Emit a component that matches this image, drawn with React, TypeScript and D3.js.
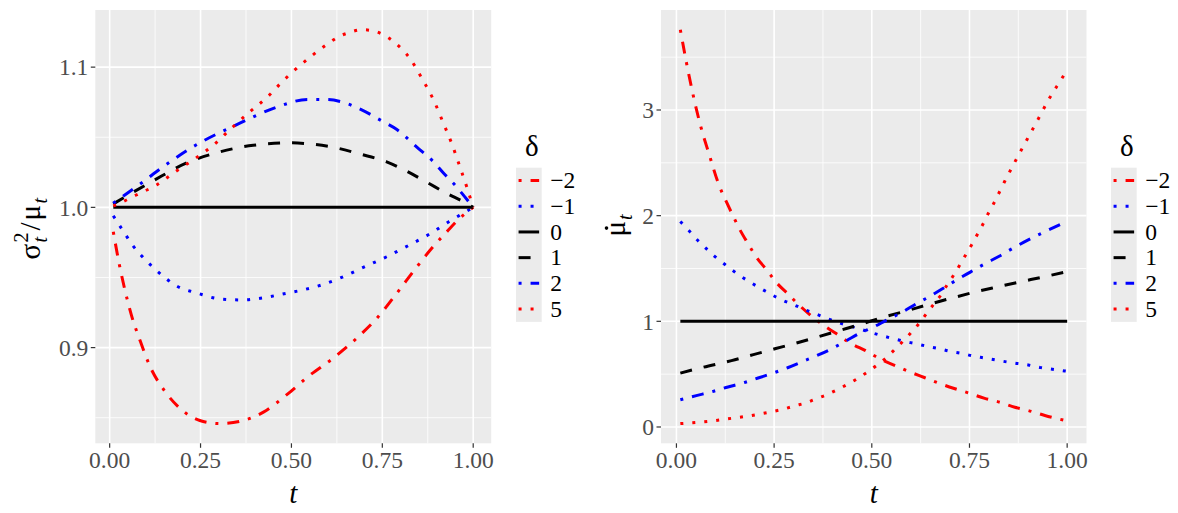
import * as d3 from 'd3';

// sigma_t^2 / mu_t: [t, value]
const ratioM2 = [[0.01, 0.9826], [0.026, 0.96], [0.042, 0.941], [0.06, 0.923], [0.083, 0.9055], [0.111, 0.8866], [0.152, 0.8688], [0.198, 0.8557], [0.248, 0.848], [0.303, 0.8458], [0.358, 0.8474], [0.423, 0.854], [0.49, 0.867], [0.546, 0.8794], [0.615, 0.8925], [0.68, 0.9068], [0.739, 0.9221], [0.79, 0.9388], [0.84, 0.9559], [0.886, 0.9708], [0.927, 0.9825], [0.964, 0.9925], [1, 1]];
const ratioM1 = [[0.01, 0.994], [0.045, 0.98], [0.063, 0.973], [0.083, 0.9668], [0.129, 0.955], [0.184, 0.944], [0.242, 0.9388], [0.303, 0.9347], [0.366, 0.934], [0.427, 0.9357], [0.487, 0.9388], [0.524, 0.9407], [0.583, 0.9447], [0.643, 0.9506], [0.702, 0.9577], [0.762, 0.9648], [0.821, 0.9727], [0.879, 0.9808], [0.933, 0.9898], [0.977, 0.9965], [1, 1]];
const ratio0 = [[0.01, 1], [1, 1]];
const ratioP1 = [[0.01, 1.0025], [0.12, 1.019], [0.212, 1.0317], [0.294, 1.0389], [0.395, 1.0443], [0.5, 1.046], [0.56, 1.045], [0.624, 1.0424], [0.689, 1.038], [0.762, 1.0325], [0.817, 1.0258], [0.872, 1.018], [0.927, 1.01], [0.973, 1.004], [1, 1]];
const ratioP2 = [[0.01, 1.003], [0.083, 1.0165], [0.15, 1.0295], [0.228, 1.043], [0.358, 1.06], [0.46, 1.0715], [0.546, 1.077], [0.597, 1.0769], [0.634, 1.0755], [0.68, 1.0712], [0.753, 1.061], [0.79, 1.0555], [0.845, 1.043], [0.89, 1.0327], [0.92, 1.024], [0.948, 1.0164], [0.977, 1.0075], [1, 1]];
const ratioP5 = [[0.01, 1.001], [0.04, 1.0045], [0.073, 1.0088], [0.129, 1.016], [0.18, 1.0253], [0.236, 1.035], [0.285, 1.0443], [0.336, 1.0567], [0.385, 1.068], [0.435, 1.079], [0.48, 1.091], [0.505, 1.097], [0.554, 1.1077], [0.604, 1.1174], [0.632, 1.122], [0.661, 1.1248], [0.693, 1.1267], [0.723, 1.126], [0.753, 1.123], [0.782, 1.118], [0.827, 1.1058], [0.861, 1.091], [0.891, 1.0766], [0.918, 1.06], [0.941, 1.0455], [0.962, 1.03], [0.983, 1.014], [1, 1]];

// mu dot_t
const muM2 = [[0.01, 3.76], [0.025, 3.46], [0.042, 3.154], [0.061, 2.861], [0.084, 2.577], [0.109, 2.288], [0.128, 2.13], [0.144, 2.005], [0.162, 1.87], [0.182, 1.743], [0.205, 1.606], [0.231, 1.486], [0.256, 1.366], [0.286, 1.257], [0.308, 1.175], [0.345, 1.052], [0.379, 0.958], [0.413, 0.873], [0.448, 0.788], [0.484, 0.722], [0.52, 0.646], [0.56, 0.58], [0.598, 0.52], [0.636, 0.466], [0.674, 0.411], [0.713, 0.362], [0.751, 0.318], [0.789, 0.271], [0.828, 0.234], [0.866, 0.187], [0.9, 0.156], [0.943, 0.109], [1, 0.057]];
const muM1 = [[0.01, 1.945], [0.033, 1.855], [0.053, 1.772], [0.075, 1.693], [0.097, 1.618], [0.12, 1.55], [0.144, 1.481], [0.169, 1.416], [0.195, 1.356], [0.221, 1.3], [0.248, 1.243], [0.274, 1.196], [0.302, 1.154], [0.33, 1.108], [0.358, 1.068], [0.386, 1.026], [0.414, 0.989], [0.441, 0.958], [0.471, 0.926], [0.498, 0.894], [0.527, 0.863], [0.556, 0.835], [0.584, 0.81], [0.613, 0.788], [0.642, 0.763], [0.672, 0.741], [0.7, 0.716], [0.73, 0.697], [0.759, 0.672], [0.788, 0.653], [0.817, 0.634], [0.845, 0.616], [0.874, 0.6], [0.903, 0.585], [0.932, 0.562], [0.962, 0.547], [1, 0.527]];
const mu0 = [[0.01, 1], [1, 1]];
const muP1 = [[0.01, 0.51], [0.068, 0.565], [0.141, 0.628], [0.197, 0.685], [0.252, 0.74], [0.312, 0.8], [0.359, 0.85], [0.419, 0.915], [0.474, 0.975], [0.53, 1.04], [0.59, 1.1], [0.645, 1.16], [0.7, 1.215], [0.756, 1.27], [0.82, 1.325], [0.875, 1.37], [0.939, 1.42], [1, 1.47]];
const muP2 = [[0.01, 0.258], [0.051, 0.297], [0.092, 0.335], [0.132, 0.379], [0.171, 0.417], [0.209, 0.464], [0.248, 0.511], [0.286, 0.563], [0.324, 0.621], [0.359, 0.675], [0.397, 0.74], [0.436, 0.819], [0.47, 0.889], [0.504, 0.945], [0.539, 1.014], [0.573, 1.077], [0.615, 1.168], [0.645, 1.229], [0.683, 1.313], [0.717, 1.391], [0.752, 1.466], [0.786, 1.538], [0.826, 1.616], [0.862, 1.694], [0.898, 1.766], [0.935, 1.834], [1, 1.945]];
const muP5 = [[0.01, 0.032], [0.041, 0.04], [0.071, 0.049], [0.1, 0.061], [0.13, 0.077], [0.159, 0.09], [0.188, 0.106], [0.217, 0.125], [0.246, 0.146], [0.275, 0.17], [0.303, 0.2], [0.331, 0.228], [0.359, 0.269], [0.386, 0.307], [0.412, 0.354], [0.44, 0.408], [0.466, 0.464], [0.491, 0.526], [0.515, 0.59], [0.539, 0.662], [0.56, 0.738], [0.582, 0.819], [0.602, 0.899], [0.622, 0.984], [0.641, 1.078], [0.659, 1.164], [0.677, 1.25], [0.693, 1.347], [0.71, 1.44], [0.726, 1.538], [0.741, 1.634], [0.756, 1.728], [0.77, 1.822], [0.784, 1.916], [0.798, 2.02], [0.812, 2.115], [0.839, 2.316], [0.868, 2.521], [0.897, 2.719], [0.926, 2.915], [0.954, 3.107], [0.986, 3.296], [1, 3.38]];

const deltaLabels = ['\u22122', '\u22121', '0', '1', '2', '5'];
const xTicks = [0, 0.25, 0.5, 0.75, 1];
const xMinor = [0.125, 0.375, 0.625, 0.875];
const ratioTicks = [0.9, 1.0, 1.1];
const ratioMinor = [0.85, 0.95, 1.05];
const muTicks = [0, 1, 2, 3];
const muMinor = [0.5, 1.5, 2.5, 3.5];

const LW = 3;
const styles = [
  { color: '#ff0000', dash: `${LW},${3 * LW},${4 * LW},${3 * LW}` },
  { color: '#0000ff', dash: `${LW},${3 * LW}` },
  { color: '#000000', dash: null },
  { color: '#000000', dash: `${4 * LW},${4 * LW}` },
  { color: '#0000ff', dash: `${LW},${3 * LW},${4 * LW},${3 * LW}` },
  { color: '#ff0000', dash: `${LW},${3 * LW}` },
];

const FONT = '"Liberation Serif", "DejaVu Serif", serif';
const TOP = 10;
const BOTTOM = 443.3;
const TICK_SIZE = 23.5;
const TITLE_SIZE = 29;

// ggplot's default 5% expansion
const expand = (ext) => {
  const pad = (ext[1] - ext[0]) * 0.05;
  return [ext[0] - pad, ext[1] + pad];
};

function Panel({ series, x0, x1, yTicks, yMinor, yFmt, clipId }) {
  const all = series.flat();
  const x = d3.scaleLinear().domain(expand(d3.extent(all, (d) => d[0]))).range([x0, x1]);
  const y = d3.scaleLinear().domain(expand(d3.extent(all, (d) => d[1]))).range([BOTTOM, TOP]);
  const line = d3.line().x((d) => x(d[0])).y((d) => y(d[1])).curve(d3.curveMonotoneX);
  const xFmt = d3.format('.2f');

  return (
    <g>
      <rect x={x0} y={TOP} width={x1 - x0} height={BOTTOM - TOP} fill="#ebebeb" />
      <clipPath id={clipId}>
        <rect x={x0} y={TOP} width={x1 - x0} height={BOTTOM - TOP} />
      </clipPath>
      {yMinor.map((v) => (
        <line key={'ym' + v} x1={x0} x2={x1} y1={y(v)} y2={y(v)} stroke="#fff" strokeWidth={0.8} />
      ))}
      {xMinor.map((v) => (
        <line key={'xm' + v} x1={x(v)} x2={x(v)} y1={TOP} y2={BOTTOM} stroke="#fff" strokeWidth={0.8} />
      ))}
      {yTicks.map((v) => (
        <line key={'y' + v} x1={x0} x2={x1} y1={y(v)} y2={y(v)} stroke="#fff" strokeWidth={1.6} />
      ))}
      {xTicks.map((v) => (
        <line key={'x' + v} x1={x(v)} x2={x(v)} y1={TOP} y2={BOTTOM} stroke="#fff" strokeWidth={1.6} />
      ))}
      <g clipPath={`url(#${clipId})`}>
        {series.map((s, i) => (
          <path
            key={i}
            d={line(s)}
            fill="none"
            stroke={styles[i].color}
            strokeWidth={LW}
            strokeDasharray={styles[i].dash || undefined}
            strokeLinecap="butt"
          />
        ))}
      </g>
      {yTicks.map((v) => (
        <g key={'yt' + v}>
          <line x1={x0 - 4.5} x2={x0} y1={y(v)} y2={y(v)} stroke="#333" strokeWidth={1.2} />
          <text x={x0 - 7} y={y(v)} dy="0.35em" textAnchor="end" fontSize={TICK_SIZE} fill="#4d4d4d" fontFamily={FONT}>
            {yFmt(v)}
          </text>
        </g>
      ))}
      {xTicks.map((v) => (
        <g key={'xt' + v}>
          <line x1={x(v)} x2={x(v)} y1={BOTTOM} y2={BOTTOM + 4.5} stroke="#333" strokeWidth={1.2} />
          <text x={x(v)} y={468} textAnchor="middle" fontSize={TICK_SIZE} fill="#4d4d4d" fontFamily={FONT}>
            {xFmt(v)}
          </text>
        </g>
      ))}
      <text x={(x0 + x1) / 2} y={503} textAnchor="middle" fontStyle="italic" fontSize={TITLE_SIZE} fontFamily={FONT}>
        t
      </text>
    </g>
  );
}

function Legend({ left }) {
  const keyW = 25.7;
  const keyH = 25.7;
  const top = 167.7;
  return (
    <g fontFamily={FONT}>
      <text x={left + 9} y={156} fontSize={TITLE_SIZE}>δ</text>
      <rect x={left} y={top} width={keyW} height={keyH * deltaLabels.length} fill="#ebebeb" />
      {deltaLabels.map((lab, i) => {
        const cy = top + keyH * (i + 0.5);
        return (
          <g key={lab}>
            <line
              x1={left + keyW * 0.1}
              x2={left + keyW * 0.9}
              y1={cy}
              y2={cy}
              stroke={styles[i].color}
              strokeWidth={LW}
              strokeDasharray={styles[i].dash || undefined}
            />
            <text x={left + keyW + 8.5} y={cy} dy="0.33em" fontSize={TICK_SIZE}>
              {lab}
            </text>
          </g>
        );
      })}
    </g>
  );
}

export default function App() {
  const ratioSeries = [ratioM2, ratioM1, ratio0, ratioP1, ratioP2, ratioP5];
  const muSeries = [muM2, muM1, mu0, muP1, muP2, muP5];
  const sub = 20;

  return (
    <svg
      width={1178}
      height={513}
      style={{ position: 'absolute', left: 0, top: 0, background: '#fff' }}
      fontFamily={FONT}
    >
      <rect width={1178} height={513} fill="#fff" />
      <Panel series={ratioSeries} x0={95.3} x1={491.2} yTicks={ratioTicks} yMinor={ratioMinor} yFmt={d3.format('.1f')} clipId="clipL" />
      <Panel series={muSeries} x0={661} x1={1086.5} yTicks={muTicks} yMinor={muMinor} yFmt={d3.format('d')} clipId="clipR" />
      <Legend left={516} />
      <Legend left={1111} />

      {/* sigma_t^2 / mu_t */}
      <g transform="translate(40,226.6) rotate(-90)" fontSize={TITLE_SIZE}>
        <text x={-33}>σ</text>
        <text x={-16} y={-12} fontSize={sub}>2</text>
        <text x={-16} y={7} fontSize={sub} fontStyle="italic">t</text>
        <text x={-4}>/</text>
        <text x={6}>μ</text>
        <text x={23} y={7} fontSize={sub} fontStyle="italic">t</text>
      </g>

      {/* mu dot _t */}
      <g transform="translate(625,226.6) rotate(-90)" fontSize={TITLE_SIZE}>
        <text x={-10}>μ</text>
        <circle cx={-1.5} cy={-18.5} r={1.8} fill="#000" />
        <text x={6.5} y={7} fontSize={sub} fontStyle="italic">t</text>
      </g>
    </svg>
  );
}
